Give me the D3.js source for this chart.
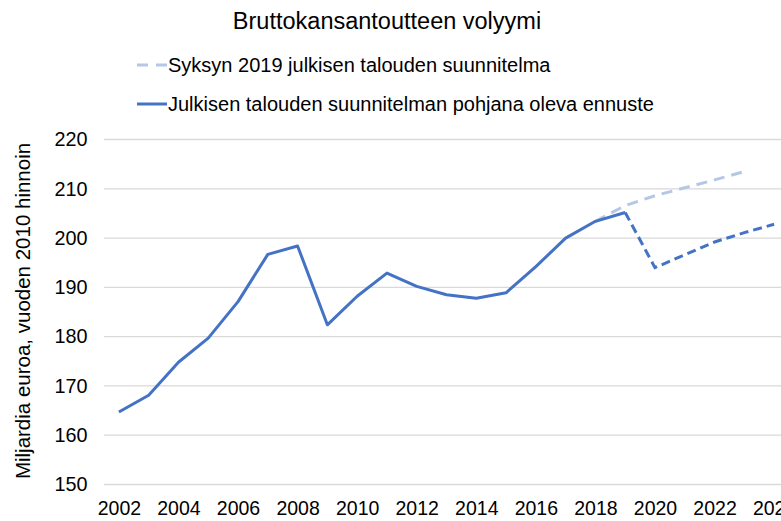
<!DOCTYPE html>
<html lang="fi">
<head>
<meta charset="UTF-8">
<title>Bruttokansantuote</title>
<script src="https://d3js.org/d3.v7.min.js"></script>
<style>
    body { margin: 0; background: #fff; }
    svg { font-family: "Liberation Sans", Arial, sans-serif; }
</style>
</head>
<body>
<div class="canvas"></div>
<script>
// vuodet ja sarjat
const years = d3.range(2002, 2025)
const yTicks = [150, 160, 170, 180, 190, 200, 210, 220]
const xTicks = [2002, 2004, 2006, 2008, 2010, 2012, 2014, 2016, 2018, 2020, 2022, 2024]

const actualYears = d3.range(2002, 2020)
const actual = [164.7, 168.1, 174.8, 179.7, 187.1, 196.7, 198.4, 182.4, 188.2, 192.9,
                190.2, 188.5, 187.8, 188.9, 194.2, 200.0, 203.4, 205.2]

const forecastYears = [2019, 2020, 2021, 2022, 2023, 2024]
const forecast = [205.2, 194.0, 196.6, 199.2, 201.1, 202.8]

const autumnYears = [2018, 2019, 2020, 2021, 2022, 2023]
const autumn = [203.4, 206.6, 208.6, 210.2, 211.8, 213.5]

const title = 'Bruttokansantoutteen volyymi'
const legendLabels = ['Syksyn 2019 julkisen talouden suunnitelma',
                      'Julkisen talouden suunnitelman pohjana oleva ennuste']
const yTitle = 'Miljardia euroa, vuoden 2010 hinnoin'

const width = 781
const height = 521
const dark = '#4472C4'
const light = '#B4C7E7'

const svg = d3.select('.canvas')
    .append('svg')
    .attr('width', width)
    .attr('height', height)

const x = d3.scalePoint()
    .domain(years)
    .range([104, 789])
    .padding(0.5)

const y = d3.scaleLinear()
    .domain([150, 220])
    .range([484.5, 139.5])

// ruudukko
svg.append('g')
    .selectAll('line')
    .data(yTicks)
    .join('line')
    .attr('x1', 104)
    .attr('x2', 789)
    .attr('y1', d => y(d))
    .attr('y2', d => y(d))
    .attr('stroke', '#d9d9d9')
    .attr('stroke-width', 1.3)

// akselit
const yAxis = d3.axisLeft(y).tickValues(yTicks).tickSize(0).tickPadding(0)
svg.append('g')
    .attr('transform', 'translate(87.5,0)')
    .call(yAxis)
    .call(g => g.select('.domain').remove())
    .selectAll('text')
    .attr('font-size', '19.8px')
    .attr('font-family', '"Liberation Sans", Arial, sans-serif')
    .attr('fill', '#000')

const xAxis = d3.axisBottom(x).tickValues(xTicks).tickSize(0).tickPadding(0)
svg.append('g')
    .attr('transform', 'translate(0,501)')
    .call(xAxis)
    .call(g => g.select('.domain').remove())
    .selectAll('text')
    .attr('font-size', '19.5px')
    .attr('font-family', '"Liberation Sans", Arial, sans-serif')
    .attr('fill', '#000')

// viivat
const line = d3.line()
    .x(d => x(d[0]))
    .y(d => y(d[1]))

svg.append('path')
    .attr('d', line(d3.zip(autumnYears, autumn)))
    .attr('fill', 'none')
    .attr('stroke', light)
    .attr('stroke-width', 3)
    .attr('stroke-dasharray', '11,7')

svg.append('path')
    .attr('d', line(d3.zip(forecastYears, forecast)))
    .attr('fill', 'none')
    .attr('stroke', dark)
    .attr('stroke-width', 3)
    .attr('stroke-dasharray', '9,5')

svg.append('path')
    .attr('d', line(d3.zip(actualYears, actual)))
    .attr('fill', 'none')
    .attr('stroke', dark)
    .attr('stroke-width', 3)
    .attr('stroke-linejoin', 'round')

// otsikko
svg.append('text')
    .attr('x', 387)
    .attr('y', 29)
    .attr('text-anchor', 'middle')
    .attr('font-size', '23.5px')
    .text(title)

// selite
const legend = svg.append('g')
const rows = [
    { label: legendLabels[0], color: light, dash: '11,8', ly: 65 },
    { label: legendLabels[1], color: dark, dash: null, ly: 104 }
]
rows.forEach(r => {
    legend.append('line')
        .attr('x1', 137).attr('x2', 167)
        .attr('y1', r.ly).attr('y2', r.ly)
        .attr('stroke', r.color)
        .attr('stroke-width', 3)
        .attr('stroke-dasharray', r.dash)
    legend.append('text')
        .attr('x', 168)
        .attr('y', r.ly + 7)
        .attr('font-size', '20px')
        .text(r.label)
})

// y-akselin otsikko
svg.append('text')
    .attr('transform', 'translate(30,311) rotate(-90)')
    .attr('text-anchor', 'middle')
    .attr('font-size', '20.5px')
    .text(yTitle)
</script>
</body>
</html>
